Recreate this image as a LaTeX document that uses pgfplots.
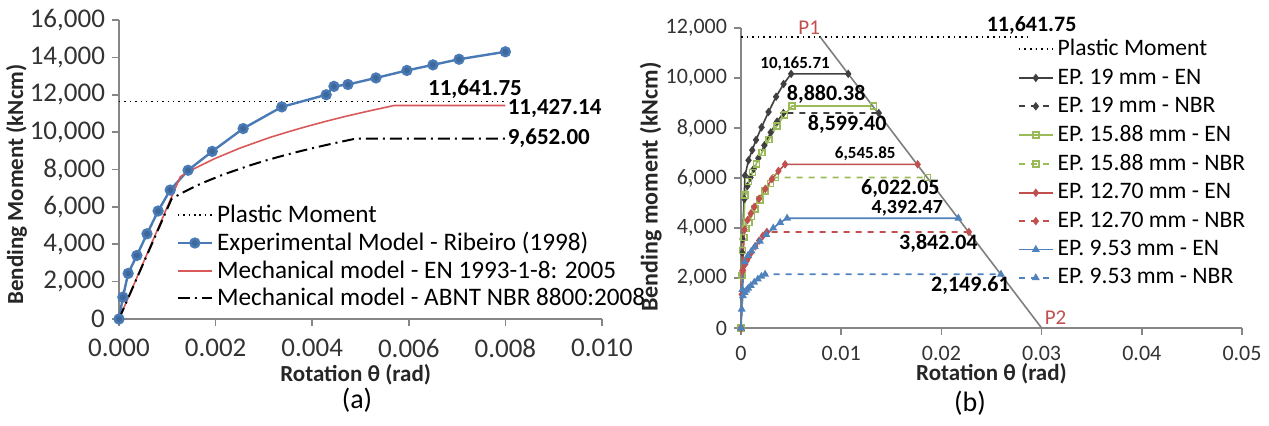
\documentclass[border=0pt]{standalone}
\usepackage{fontspec}
\setmainfont{Carlito}
\usepackage{pgfplots}
\pgfplotsset{compat=1.18}
\definecolor{axgray}{HTML}{868686}
\definecolor{expblue}{HTML}{4A7AB5}
\definecolor{enred}{HTML}{D9595A}
\definecolor{darkser}{HTML}{404040}
\definecolor{sgreen}{HTML}{9BBB59}
\definecolor{sred}{HTML}{C0504D}
\definecolor{sblue}{HTML}{4F81BD}
\definecolor{diag}{HTML}{7F7F7F}

\pgfplotsset{
  excel/.style={
    scale only axis,
    axis x line=bottom, axis y line=left,
    axis line style={axgray,-,line width=0.8pt},
    tick align=outside, major tick length=3.5pt,
    tick style={axgray,line width=0.8pt},
    ticklabel style={text=black!80},
    /pgf/number format/assume math mode=true,
    /pgf/number format/1000 sep={,},
    scaled x ticks=false, scaled y ticks=false,
    clip=false,
    legend cell align=left,
    label style={font=\bfseries\fontsize{11.5}{13}\selectfont, text=black!85},
  }
}

\begin{document}
\begin{tikzpicture}
\useasboundingbox (0pt,0pt) rectangle (634.5pt,-212.5pt);

% ---------- (a)
\begin{axis}[excel,
  at={(59.5pt,-159.5pt)}, anchor=origin,
  width=241.5pt, height=149.5pt,
  xmin=0, xmax=0.01, ymin=0, ymax=16000,
  xtick={0,0.002,...,0.0101}, ytick={0,2000,...,16000},
  xticklabel style={yshift=-3pt,/pgf/number format/.cd,fixed,fixed zerofill,precision=3},
  ticklabel style={font=\fontsize{13.5}{15}\selectfont},
  xlabel={Rotation θ (rad)}, ylabel={Bending Moment (kNcm)},
  xlabel style={at={(axis description cs:0.49,-0.185)},anchor=center},
  ylabel style={at={(axis description cs:-0.212,0.45)},anchor=center},
  legend style={at={(0.106,0.41)},anchor=north west,draw=none,fill=none,
    font=\fontsize{12.6}{14}\selectfont,row sep=-0.5pt},
]
\addplot[black,dotted,line width=0.7pt] coordinates {(0,11641.75) (0.008,11641.75)};
\addlegendentry{Plastic Moment}
\addplot[expblue,line width=1.2pt,mark=*,mark size=2.2pt,mark options={fill=expblue!85!black}]
coordinates {
  (0,0) (0.00008,1170) (0.00019,2440) (0.00037,3400) (0.00058,4560)
  (0.00081,5780) (0.00106,6900) (0.00143,7960) (0.00193,8970)
  (0.00257,10190) (0.00337,11350) (0.00429,12000) (0.00445,12450)
  (0.00474,12550) (0.00532,12900) (0.00596,13300) (0.0065,13600)
  (0.00704,13900) (0.008,14300)
};
\addlegendentry{Experimental Model - Ribeiro (1998)}
\addplot[enred,line width=0.8pt] coordinates {
  (0,0) (0.00127,7618) (0.00152,7999) (0.00197,8570) (0.0025,9142)
  (0.00312,9713) (0.00348,9999) (0.00386,10284) (0.00427,10570)
  (0.00471,10856) (0.00519,11141) (0.0057,11427.14) (0.008,11427.14)
};
\addlegendentry{Mechanical model - EN 1993-1-8: 2005}
\addplot[black,line width=1pt,dash pattern=on 6pt off 2.5pt on 1pt off 2.5pt] coordinates {
  (0,0) (0.00109,6435) (0.00131,6756) (0.00169,7239) (0.00215,7722)
  (0.00269,8204) (0.00299,8446) (0.00332,8687) (0.00367,8928)
  (0.00405,9169) (0.00446,9411) (0.0049,9652) (0.008,9652)
};
\addlegendentry{Mechanical model - ABNT NBR 8800:2008}
\node[font=\bfseries\fontsize{11.5}{13}\selectfont,anchor=south,inner sep=1pt] at (axis cs:0.00737,11641.75) {11,641.75};
\node[font=\bfseries\fontsize{11.5}{13}\selectfont,anchor=west,inner sep=1pt,yshift=-1.5pt] at (axis cs:0.008,11427.14) {11,427.14};
\node[font=\bfseries\fontsize{11.5}{13}\selectfont,anchor=west,inner sep=1pt] at (axis cs:0.008,9652) {9,652.00};
\end{axis}

% ---------- (b)
\begin{axis}[excel,
  at={(370.5pt,-164pt)}, anchor=origin,
  width=250.5pt, height=150pt,
  xmin=0, xmax=0.05, ymin=0, ymax=12000,
  xtick={0,0.01,...,0.051}, ytick={0,2000,...,12000},
  xticklabel style={yshift=-2pt,/pgf/number format/.cd,fixed,precision=2},
  ticklabel style={font=\fontsize{11}{13}\selectfont},
  xlabel={Rotation θ (rad)}, ylabel={Bending moment (kNcm)},
  xlabel style={at={(axis description cs:0.5,-0.152)},anchor=center},
  ylabel style={at={(axis description cs:-0.18,0.47)},anchor=center,font=\bfseries\fontsize{12}{14}\selectfont},
  legend style={at={(0.54,0.99)},anchor=north west,draw=none,fill=none,
    font=\fontsize{11.8}{13}\selectfont,row sep=1pt},
  every axis plot/.append style={mark size=1.5pt, line width=0.8pt},
]
\addplot[black,dotted,line width=0.7pt] coordinates {(0,11641.75) (0.029,11641.75)};
\addlegendentry{Plastic Moment}
\addplot[darkser,mark=diamond*] coordinates {
  (0,0) (0.00015,3558) (0.0004,6099) (0.00075,6709) (0.00112,7116) (0.0015,7523)
  (0.00205,8031) (0.00275,8641) (0.0035,9251) (0.00425,9759) (0.005,10165.71)
  (0.0107,10165.71)
};
\addlegendentry{EP. 19 mm - EN}
\addplot[darkser,dashed,mark=diamond*,mark options={solid}] coordinates {
  (0,0) (0.000127,3010) (0.000338,5160) (0.000635,5676) (0.000943,6020) (0.00127,6364)
  (0.00173,6794) (0.00233,7309) (0.00296,7825) (0.0036,8255) (0.00423,8599.40)
  (0.01375,8599.40)
};
\addlegendentry{EP. 19 mm - NBR}
\addplot[sgreen,mark=square,mark options={fill=sgreen!30}] coordinates {
  (0,0) (0.000153,3108) (0.000408,5328) (0.000765,5861) (0.00114,6216) (0.00153,6572)
  (0.00209,7016) (0.00281,7548) (0.00357,8081) (0.00434,8525) (0.0051,8880.38)
  (0.01322,8880.38)
};
\addlegendentry{EP. 15.88 mm - EN}
\addplot[sgreen,dashed,mark=square,mark options={solid,fill=sgreen!30}] coordinates {
  (0,0) (0.000104,2108) (0.000277,3613) (0.000519,3975) (0.000772,4215) (0.00104,4456)
  (0.00142,4757) (0.0019,5119) (0.00242,5480) (0.00294,5781) (0.00346,6022.05)
  (0.01862,6022.05)
};
\addlegendentry{EP. 15.88 mm - NBR}
\addplot[sred,mark=diamond*] coordinates {
  (0,0) (0.000132,2291) (0.000352,3928) (0.00066,4320) (0.00098,4582) (0.00132,4844)
  (0.0018,5171) (0.00242,5564) (0.00308,5957) (0.00374,6284) (0.0044,6545.85)
  (0.01763,6545.85)
};
\addlegendentry{EP. 12.70 mm - EN}
\addplot[sred,dashed,mark=diamond*,mark options={solid}] coordinates {
  (0,0) (0.0000774,1345) (0.000206,2305) (0.000387,2536) (0.000575,2689) (0.000774,2843)
  (0.00106,3035) (0.00142,3266) (0.00181,3496) (0.00219,3688) (0.00258,3842.04)
  (0.02274,3842.04)
};
\addlegendentry{EP. 12.70 mm - NBR}
\addplot[sblue,mark=triangle*] coordinates {
  (0,0) (0.000138,1537) (0.000368,2635) (0.00069,2899) (0.00103,3075) (0.00138,3250)
  (0.00189,3470) (0.00253,3734) (0.00322,3997) (0.00391,4217) (0.0046,4392.47)
  (0.0217,4392.47)
};
\addlegendentry{EP. 9.53 mm - EN}
\addplot[sblue,dashed,mark=triangle*,mark options={solid}] coordinates {
  (0,0) (0.000072,752) (0.000192,1290) (0.00036,1419) (0.000535,1505) (0.00072,1591)
  (0.00098,1698) (0.00132,1827) (0.00168,1956) (0.00204,2064) (0.0024,2149.61)
  (0.02594,2149.61)
};
\addlegendentry{EP. 9.53 mm - NBR}
\addplot[diag,line width=0.8pt,forget plot] coordinates {(0.0079,11641.75) (0.03,0)};

\node[text=sred,font=\fontsize{10.5}{12}\selectfont,anchor=south,inner sep=1pt] at (axis cs:0.0068,11641.75) {P1};
\node[text=sred,font=\fontsize{10.5}{12}\selectfont,anchor=center] at (axis cs:0.0314,420) {P2};
\node[font=\bfseries\fontsize{11}{12}\selectfont,anchor=south,inner sep=1pt] at (axis cs:0.029,11641.75) {11,641.75};
\node[font=\bfseries\fontsize{8.5}{10}\selectfont,anchor=south,inner sep=1.5pt] at (axis cs:0.0054,10165.71) {10,165.71};
\node[font=\bfseries\fontsize{11}{12}\selectfont,anchor=south,inner sep=1pt] at (axis cs:0.0085,8880.38) {8,880.38};
\node[font=\bfseries\fontsize{11}{12}\selectfont,anchor=north,inner sep=1pt] at (axis cs:0.0106,8599.40) {8,599.40};
\node[font=\bfseries\fontsize{8.5}{10}\selectfont,anchor=south,inner sep=1.5pt] at (axis cs:0.0124,6545.85) {6,545.85};
\node[font=\bfseries\fontsize{11}{12}\selectfont,anchor=north,inner sep=1pt] at (axis cs:0.0159,6022.05) {6,022.05};
\node[font=\bfseries\fontsize{10}{11}\selectfont,anchor=south,inner sep=1pt] at (axis cs:0.0166,4392.47) {4,392.47};
\node[font=\bfseries\fontsize{11}{12}\selectfont,anchor=north,inner sep=1pt] at (axis cs:0.0197,3842.04) {3,842.04};
\node[font=\bfseries\fontsize{11}{12}\selectfont,anchor=north,inner sep=1pt] at (axis cs:0.0229,2149.61) {2,149.61};
\end{axis}

\node[font=\fontsize{14}{16}\selectfont] at (178.5pt,-200pt) {(a)};
\node[font=\fontsize{14}{16}\selectfont] at (485pt,-201.5pt) {(b)};
\end{tikzpicture}
\end{document}
